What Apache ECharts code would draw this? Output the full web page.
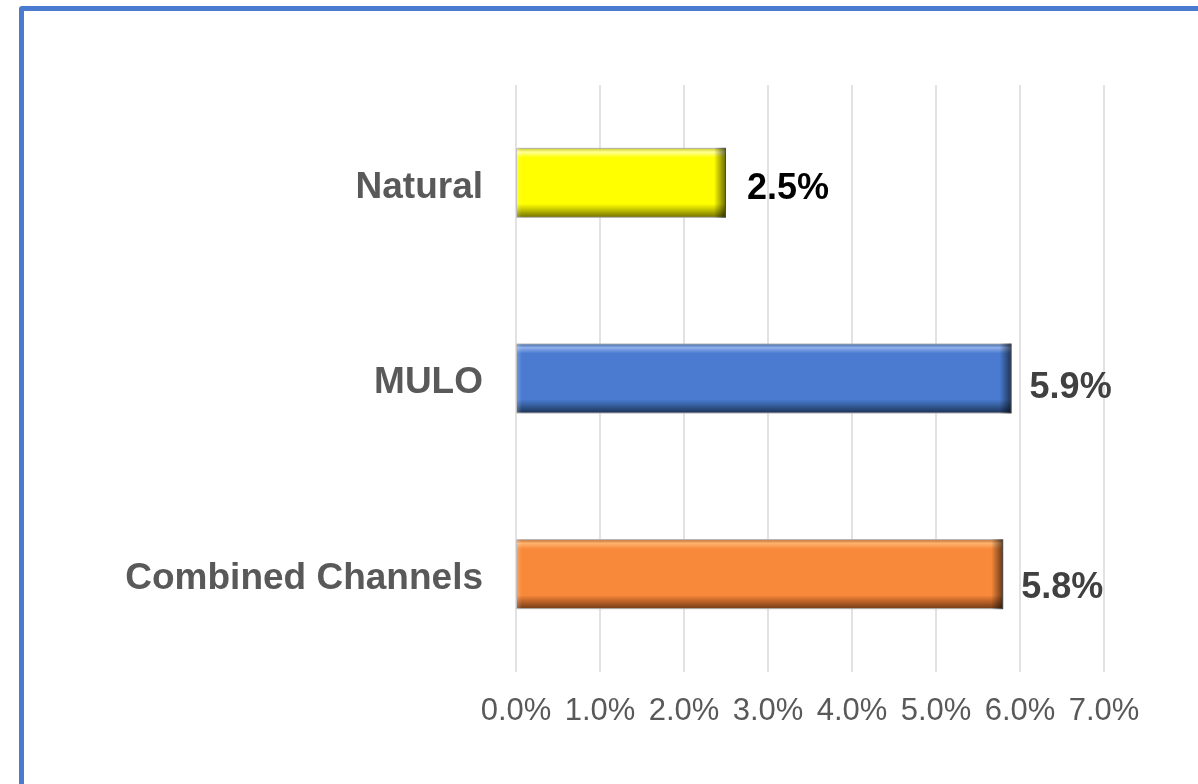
<!DOCTYPE html>
<html>
<head>
<meta charset="utf-8">
<script src="https://cdn.jsdelivr.net/npm/echarts@6/dist/echarts.min.js"></script>
<style>
  body { margin: 0; background: #fff; overflow: hidden; }
  #frame { position: absolute; left: 19px; top: 6px; width: 1220px; height: 820px;
           border: 5px solid #4a7bd0; border-radius: 3px; }
  #chart { position: absolute; left: 0; top: 0; width: 1198px; height: 784px; }
</style>
</head>
<body>
<div id="frame"></div>
<div id="chart"></div>
<script>
// bottom to top, as the category axis draws them
const categories = ['Combined Channels', 'MULO', 'Natural'];
const values = [5.8, 5.9, 2.5];
const xTicks = [0, 1, 2, 3, 4, 5, 6, 7];

// bar colours: [highlight, main, shade, dark]
const barColors = [
  ['#fdb36e', '#f8893a', '#c2662a', '#6e3a14'],
  ['#8fb0ea', '#4a7bd0', '#36609f', '#1c2f52'],
  ['#ffff99', '#ffff00', '#c8c800', '#6b6b00']
];
const labelColors = ['#404040', '#404040', '#000000'];
const labelOffsets = [14, 10, 6];
const labelDistances = [18, 18, 21];

const PX_PER_UNIT = 84;   // 588px plot width / 7
const BEVEL = 12;

function vBevel(c) {
  return new echarts.graphic.LinearGradient(0, 0, 0, 1, [
    { offset: 0, color: c[2] },
    { offset: 0.06, color: c[0] },
    { offset: 0.14, color: c[1] },
    { offset: 0.80, color: c[1] },
    { offset: 0.88, color: c[2] },
    { offset: 1, color: c[3] }
  ]);
}
function hBevel(v) {
  const e = Math.min(0.45, BEVEL / (v * PX_PER_UNIT));
  return new echarts.graphic.LinearGradient(0, 0, 1, 0, [
    { offset: 0, color: 'rgba(255,255,255,0.25)' },
    { offset: e * 0.5, color: 'rgba(255,255,255,0)' },
    { offset: 1 - e, color: 'rgba(0,0,0,0)' },
    { offset: 1, color: 'rgba(0,0,0,0.6)' }
  ]);
}

const font = 'Liberation Sans, Arial, sans-serif';
const chart = echarts.init(document.getElementById('chart'));
chart.setOption({
  animation: false,
  backgroundColor: 'transparent',
  grid: { left: 516, right: 94, top: 85, bottom: 112 },
  xAxis: {
    type: 'value',
    min: xTicks[0],
    max: xTicks[xTicks.length - 1],
    interval: 1,
    axisLine: { show: false },
    axisTick: { show: false },
    splitLine: { lineStyle: { color: '#d9d9d9', width: 1.5 } },
    axisLabel: {
      margin: 24,
      color: '#595959',
      fontFamily: font,
      fontSize: 31,
      formatter: v => v.toFixed(1) + '%'
    }
  },
  yAxis: {
    type: 'category',
    data: categories,
    axisLine: { show: false },
    axisTick: { show: false },
    axisLabel: {
      margin: 33,
      formatter: v => '{c|' + v + '}',
      rich: {
        c: {
          padding: [9, 0, 0, 0],
          color: '#595959',
          fontWeight: 'bold',
          fontFamily: font,
          fontSize: 37
        }
      }
    }
  },
  series: [{
    type: 'bar',
    barWidth: 70,
    data: values.map((v, i) => ({
      value: v,
      itemStyle: { color: vBevel(barColors[i]), borderColor: '#b0b0b0', borderWidth: 1 },
      label: { color: labelColors[i], offset: [0, labelOffsets[i]], distance: labelDistances[i] }
    })),
    label: {
      show: true,
      position: 'right',
      fontWeight: 'bold',
      fontFamily: font,
      fontSize: 36,
      formatter: p => p.value.toFixed(1) + '%'
    }
  }, {
    type: 'bar',
    barWidth: 70,
    barGap: '-100%',
    silent: true,
    data: values.map(v => ({ value: v, itemStyle: { color: hBevel(v) } }))
  }]
});
window.addEventListener('resize', () => chart.resize());
</script>
</body>
</html>
